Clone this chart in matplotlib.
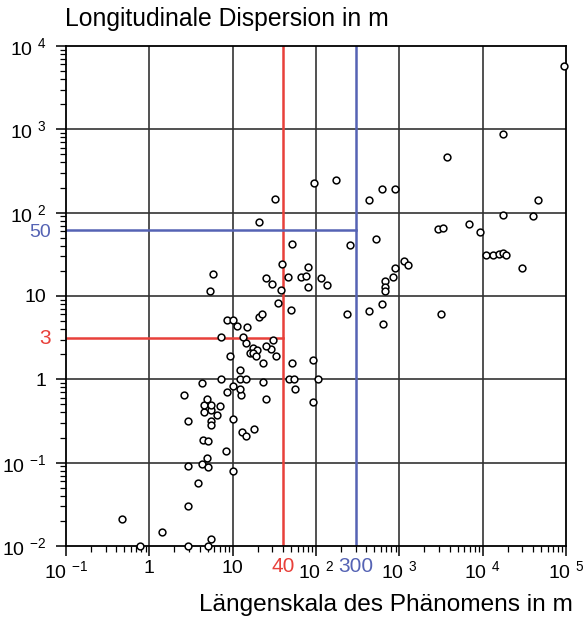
import numpy as np
import matplotlib
matplotlib.use('Agg')
import matplotlib.pyplot as plt
import matplotlib.ticker as mticker
import matplotlib.transforms as mtrans

plt.rcParams['font.family'] = ['Liberation Sans', 'DejaVu Sans']
plt.rcParams['mathtext.default'] = 'regular'

# Laengenskala (m) and longitudinale Dispersion (m)
laenge = [0.474, 0.77, 1.41, 2.94, 5.02, 5.5, 2.94, 3.81, 2.94, 4.26,
          5.02, 4.88, 10.2, 8.32, 4.45, 5.1, 12.8, 14.3, 17.8, 2.89,
          5.45, 5.45, 10.2, 6.49, 4.53, 5.45, 4.53, 5.45, 7.05, 4.97,
          2.63, 25.1, 12.5, 8.49, 12.3, 56, 10.0, 4.33, 22.9, 7.19,
          12.3, 14.5, 47.1, 55, 105, 92, 12.3, 22.9, 51.6, 92,
          9.3, 33.1, 28.9, 25.1, 17.4, 19.5, 16.2, 17.7, 19.1, 14.6,
          30.8, 7.25, 13.3, 11.4, 14.7, 8.49, 10.2, 20.9, 22.5, 50.1,
          35, 5.35, 38.4, 5.86, 24.9, 29.7, 46.6, 38.8, 51.2, 20.9,
          32.2, 94.7, 176, 433, 620, 888, 525, 256, 79.6, 66.1,
          74.9, 114, 136, 79.1, 234, 433, 620, 632, 1140, 1283,
          896, 834, 679, 676, 678, 3170, 2890, 3365, 6900, 9310,
          11070, 13150, 15810, 17700, 19090, 29950, 17700, 39900, 46600, 3770,
          17400, 94800]
dispersion = [0.0211, 0.0101, 0.0146, 0.0101, 0.0101, 0.0122, 0.0299, 0.0568, 0.092, 0.0966,
              0.0879, 0.113, 0.0791, 0.137, 0.189, 0.18, 0.231, 0.207, 0.256, 0.313,
              0.319, 0.286, 0.338, 0.37, 0.41, 0.433, 0.49, 0.49, 0.483, 0.587,
              0.643, 0.582, 0.655, 0.698, 0.767, 0.767, 0.84, 0.905, 0.92, 1.0,
              1.0, 1.0, 1.0, 1.0, 1.0, 0.535, 1.31, 1.56, 1.59, 1.72,
              1.89, 1.92, 2.34, 2.54, 2.4, 2.23, 2.07, 2.09, 1.89, 2.73,
              3.0, 3.23, 3.25, 4.37, 4.25, 5.13, 5.13, 5.58, 6.06, 6.73,
              8.17, 11.6, 11.7, 18.4, 16.5, 13.8, 16.7, 24.1, 41.7, 77.4,
              147, 229, 249, 143, 192, 193, 48.8, 41, 22.1, 16.8,
              17.3, 16.6, 13.7, 12.7, 6.09, 6.55, 8.03, 4.66, 26.1, 23.3,
              21.9, 17.0, 15.3, 12.9, 11.6, 6.03, 64.0, 65.8, 73.3, 58.1,
              30.7, 30.7, 31.6, 33.1, 31.2, 21.5, 92.9, 92.1, 143, 467,
              881, 5820]

x_ticks = [1e-1, 1, 1e1, 1e2, 1e3, 1e4, 1e5]
x_labels = ['10 $^{-1}$', '1', '10', '10 $^{2}$', '10 $^{3}$', '10 $^{4}$', '10 $^{5}$']
y_ticks = [1e-2, 1e-1, 1, 1e1, 1e2, 1e3, 1e4]
y_labels = ['10 $^{-2}$', '10 $^{-1}$', '1', '10', '10 $^{2}$', '10 $^{3}$', '10 $^{4}$']

# marker lines (the blue horizontal sits a bit above 50 in the original)
red_x, red_y = 40, 3.1
blue_x, blue_y = 298, 62
red_lbl_x, red_lbl_y = '40', '3'
blue_lbl_x, blue_lbl_y = '300', '50'
red = '#e8403a'
blue = '#5563b4'

fig = plt.figure(figsize=(5.86, 6.21), dpi=100)
ax = fig.add_axes([66/586, 75/621, 500/586, 500/621])
ax.set_xscale('log')
ax.set_yscale('log')
ax.set_xlim(1e-1, 1e5)
ax.set_ylim(1e-2, 1e4)

for v in x_ticks[1:-1]:
    ax.axvline(v, color='#333333', lw=1.2, zorder=1)
for v in y_ticks[1:-1]:
    ax.axhline(v, color='#333333', lw=1.2, zorder=1)

ax.axvline(red_x, color=red, lw=1.8, zorder=2)
ax.plot([1e-1, red_x], [red_y, red_y], color=red, lw=1.8, zorder=2)
ax.axvline(blue_x, color=blue, lw=1.8, zorder=2)
ax.plot([1e-1, blue_x], [blue_y, blue_y], color=blue, lw=1.8, zorder=2)

ax.scatter(laenge, dispersion, s=24, facecolors='white', edgecolors='black',
           linewidths=1.1, zorder=3, clip_on=False)

ax.xaxis.set_major_locator(mticker.FixedLocator(x_ticks))
ax.xaxis.set_major_formatter(mticker.FixedFormatter(x_labels))
ax.yaxis.set_major_locator(mticker.FixedLocator(y_ticks))
ax.yaxis.set_major_formatter(mticker.FixedFormatter(y_labels))
ax.xaxis.set_minor_locator(mticker.LogLocator(base=10, subs=np.arange(2, 10), numticks=20))
ax.yaxis.set_minor_locator(mticker.LogLocator(base=10, subs=np.arange(2, 10), numticks=20))
ax.xaxis.set_minor_formatter(mticker.NullFormatter())
ax.yaxis.set_minor_formatter(mticker.NullFormatter())
ax.tick_params(which='major', direction='out', length=7, width=1.1, labelsize=14, colors='black')
ax.tick_params(which='minor', direction='out', length=4, width=0.9)
ax.tick_params(axis='x', pad=3)
ax.tick_params(axis='y', pad=7)

for s in ax.spines.values():
    s.set_linewidth(1.3)
    s.set_color('black')

# coloured marks on the axes
tx = mtrans.blended_transform_factory(ax.transData, ax.transAxes)
ty = mtrans.blended_transform_factory(ax.transAxes, ax.transData)
down = mtrans.ScaledTranslation(0, -3/100, fig.dpi_scale_trans)
ax.text(red_x, -0.022, red_lbl_x, color=red, fontsize=15, ha='center', va='top', transform=tx)
ax.text(blue_x, -0.022, blue_lbl_x, color=blue, fontsize=15, ha='center', va='top', transform=tx)
ax.text(-0.03, red_y, red_lbl_y, color=red, fontsize=15, ha='right', va='center', transform=ty)
ax.text(-0.03, blue_y, blue_lbl_y, color=blue, fontsize=14, ha='right', va='center',
        transform=ty + down)

fig.text(65/586, 1 - 19/621, 'Longitudinale Dispersion in m', fontsize=17.8, ha='left', va='center')
fig.text(573/586, 1 - 605/621, 'Längenskala des Phänomens in m', fontsize=17.6, ha='right', va='center')

fig.savefig('out.png', dpi=100)
